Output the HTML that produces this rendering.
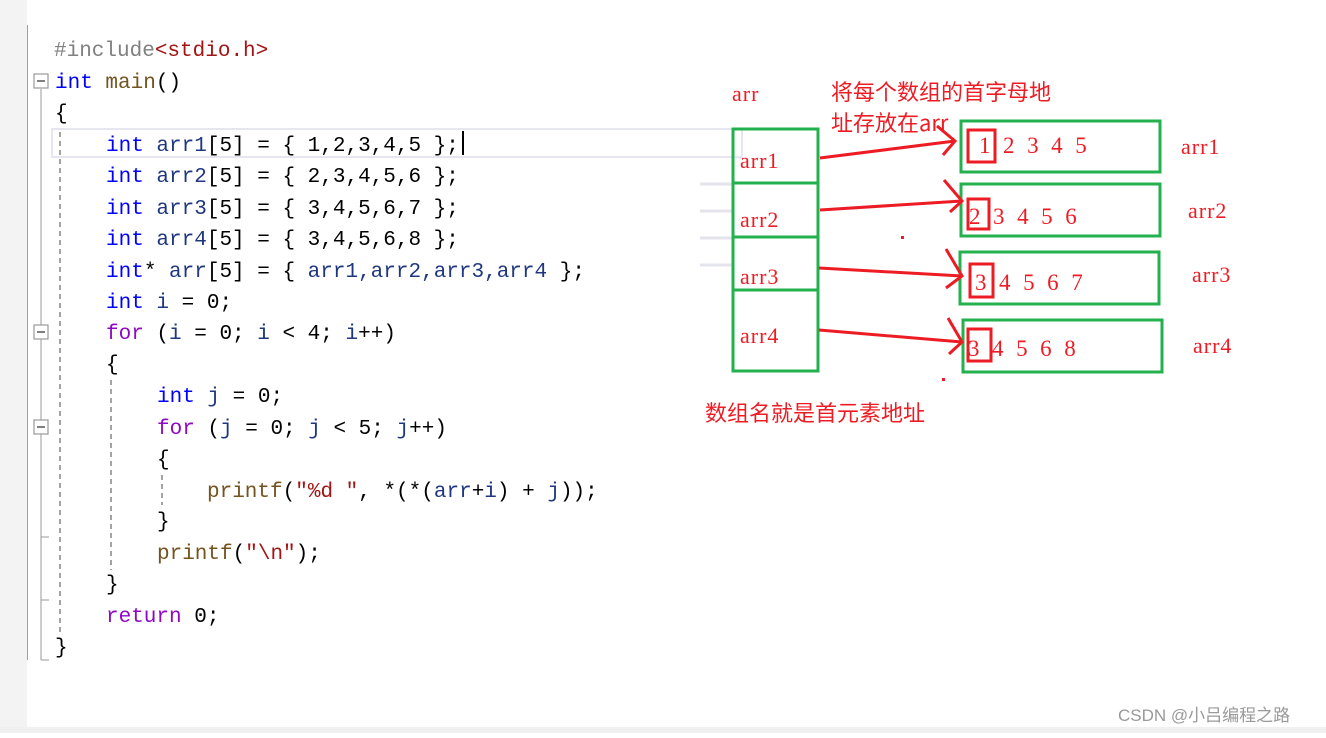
<!DOCTYPE html>
<html><head><meta charset="utf-8"><style>
html,body{margin:0;padding:0;background:#fff;}
</style></head><body>
<svg width="1326" height="733" viewBox="0 0 1326 733" xmlns="http://www.w3.org/2000/svg">
<rect x="0" y="0" width="27" height="733" fill="#f3f3f3"/>
<line x1="27.5" y1="25" x2="27.5" y2="660" stroke="#5ad05a" stroke-width="1"/>
<rect x="0" y="727" width="1326" height="6" fill="#f0f0f0"/>
<rect x="52" y="129" width="690" height="28" fill="none" stroke="#e6e6f0" stroke-width="2"/>
<line x1="463" y1="131" x2="463" y2="155" stroke="#000" stroke-width="2"/>
<g fill="#fff" stroke="#999" stroke-width="1.2">
<rect x="34" y="74" width="14" height="14"/><rect x="34" y="325" width="14" height="14"/><rect x="34" y="420" width="14" height="14"/>
</g>
<g stroke="#555" stroke-width="1.5"><line x1="37" y1="81" x2="45" y2="81"/><line x1="37" y1="332" x2="45" y2="332"/><line x1="37" y1="427" x2="45" y2="427"/></g>
<g stroke="#999" stroke-width="1"><line x1="41" y1="89" x2="41" y2="325"/><line x1="41" y1="339" x2="41" y2="420"/><line x1="41" y1="434" x2="41" y2="660"/><line x1="41" y1="660" x2="49" y2="660"/><line x1="41" y1="600" x2="49" y2="600"/><line x1="41" y1="537" x2="49" y2="537"/></g>
<g stroke="#666" stroke-width="1.2" stroke-dasharray="5,4"><line x1="60" y1="132" x2="60" y2="635"/><line x1="111" y1="380" x2="111" y2="570"/><line x1="162" y1="475" x2="162" y2="505"/></g>
<g font-family="Liberation Mono, monospace" font-size="21" fill="#000">
<text x="54" y="56"><tspan fill="#808080">#include</tspan><tspan fill="#a31515">&lt;stdio.h&gt;</tspan></text>
<text x="55" y="88"><tspan fill="#0000ff">int</tspan> <tspan fill="#74531f">main</tspan>()</text>
<text x="55" y="119">{</text>
<text x="106" y="151"><tspan fill="#0000ff">int</tspan> <tspan fill="#1f377f">arr1</tspan>[5] = { 1,2,3,4,5 };</text>
<text x="106" y="182"><tspan fill="#0000ff">int</tspan> <tspan fill="#1f377f">arr2</tspan>[5] = { 2,3,4,5,6 };</text>
<text x="106" y="214"><tspan fill="#0000ff">int</tspan> <tspan fill="#1f377f">arr3</tspan>[5] = { 3,4,5,6,7 };</text>
<text x="106" y="245"><tspan fill="#0000ff">int</tspan> <tspan fill="#1f377f">arr4</tspan>[5] = { 3,4,5,6,8 };</text>
<text x="106" y="277"><tspan fill="#0000ff">int</tspan>* <tspan fill="#1f377f">arr</tspan>[5] = { <tspan fill="#1f377f">arr1,arr2,arr3,arr4</tspan> };</text>
<text x="106" y="308"><tspan fill="#0000ff">int</tspan> <tspan fill="#1f377f">i</tspan> = 0;</text>
<text x="106" y="339"><tspan fill="#8f08c4">for</tspan> (<tspan fill="#1f377f">i</tspan> = 0; <tspan fill="#1f377f">i</tspan> &lt; 4; <tspan fill="#1f377f">i</tspan>++)</text>
<text x="106" y="370">{</text>
<text x="157" y="402"><tspan fill="#0000ff">int</tspan> <tspan fill="#1f377f">j</tspan> = 0;</text>
<text x="157" y="434"><tspan fill="#8f08c4">for</tspan> (<tspan fill="#1f377f">j</tspan> = 0; <tspan fill="#1f377f">j</tspan> &lt; 5; <tspan fill="#1f377f">j</tspan>++)</text>
<text x="157" y="465">{</text>
<text x="207" y="497"><tspan fill="#74531f">printf</tspan>(<tspan fill="#a31515">"%d "</tspan>, *(*(<tspan fill="#1f377f">arr</tspan>+<tspan fill="#1f377f">i</tspan>) + <tspan fill="#1f377f">j</tspan>));</text>
<text x="157" y="527">}</text>
<text x="157" y="559"><tspan fill="#74531f">printf</tspan>(<tspan fill="#a31515">"\n"</tspan>);</text>
<text x="106" y="590">}</text>
<text x="106" y="622"><tspan fill="#8f08c4">return</tspan> 0;</text>
<text x="55" y="653">}</text>
</g>
<g stroke="#e4e4ec" stroke-width="3"><line x1="700" y1="184" x2="732" y2="184"/><line x1="700" y1="211" x2="732" y2="211"/><line x1="700" y1="238" x2="732" y2="238"/><line x1="700" y1="265" x2="732" y2="265"/></g>
<g fill="none" stroke="#22b14c" stroke-width="3">
<rect x="733" y="129" width="85" height="242"/>
<line x1="733" y1="183" x2="818" y2="183"/><line x1="733" y1="237" x2="818" y2="237"/><line x1="733" y1="290" x2="818" y2="290"/>
<rect x="961" y="121" width="199" height="51"/>
<rect x="961" y="184" width="199" height="52"/>
<rect x="960" y="252" width="199" height="52"/>
<rect x="963" y="320" width="199" height="52"/>
</g>
<g fill="none" stroke="#ed1c24" stroke-width="3">
<rect x="968" y="130" width="27" height="32"/>
<rect x="968" y="199" width="21" height="30"/>
<rect x="970" y="264" width="23" height="33"/>
<rect x="968" y="329" width="23" height="32"/>
<polyline points="820,158 955,141"/><polyline points="937,126 955,141 943,155"/>
<polyline points="820,210 962,201"/><polyline points="944,180 962,201 950,212"/>
<polyline points="819,268 962,276"/><polyline points="946,249 962,276 946,288"/>
<polyline points="819,330 962,342"/><polyline points="948,318 962,342 949,354"/>
</g>
<rect x="901" y="236" width="3" height="3" fill="#ed1c24"/>
<rect x="942" y="378" width="3" height="3" fill="#ed1c24"/>
<g font-family="Liberation Serif, 'Noto Serif CJK SC', serif" font-size="22" fill="#ed1c24" letter-spacing="1">
<text x="732" y="101">arr</text>
<text x="740" y="168">arr1</text><text x="740" y="227">arr2</text><text x="740" y="284">arr3</text><text x="740" y="343">arr4</text>
<text x="1181" y="154">arr1</text><text x="1188" y="218">arr2</text><text x="1192" y="282">arr3</text><text x="1193" y="353">arr4</text>
</g>
<g font-family="Liberation Serif, serif" font-size="23" fill="#ed1c24" letter-spacing="3.4">
<text x="979" y="153">1 2 3 4 5</text>
<text x="969" y="224">2 3 4 5 6</text>
<text x="975" y="290">3 4 5 6 7</text>
<text x="968" y="356">3 4 5 6 8</text>
</g>
<g font-family="'Noto Sans CJK SC', sans-serif" font-size="22" fill="#ed1c24">
<text x="831" y="100">将每个数组的首字母地</text>
<text x="831" y="131">址存放在arr</text>
<text x="705" y="421">数组名就是首元素地址</text>
</g>
<text x="1118" y="721" font-family="Liberation Sans, 'Noto Sans CJK SC', sans-serif" font-size="17" fill="#999">CSDN @小吕编程之路</text>
</svg>
</body></html>
